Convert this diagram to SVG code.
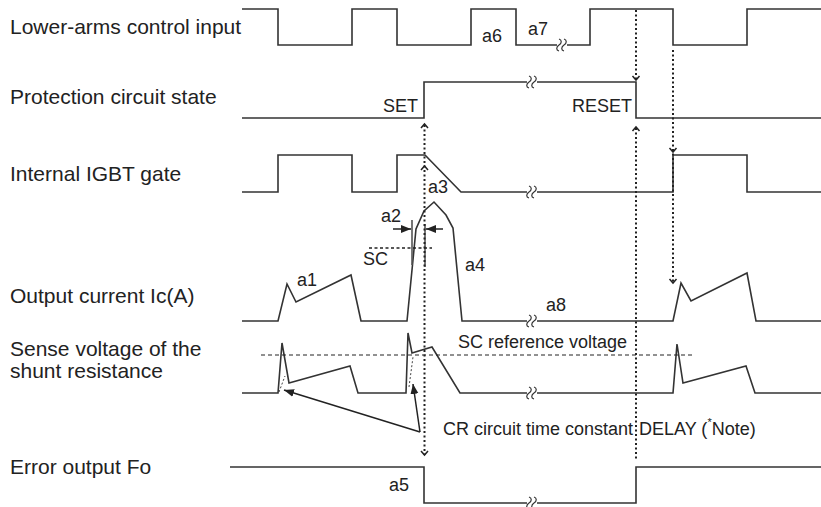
<svg xmlns="http://www.w3.org/2000/svg" width="821" height="507" viewBox="0 0 821 507">
<style>
  .lbl { font-family: "Liberation Sans", Arial, sans-serif; font-size: 21px; fill: #222; }
  .sm { font-family: "Liberation Sans", Arial, sans-serif; font-size: 18px; fill: #222; }
  .sig { fill: none; stroke: #333; stroke-width: 1.6; stroke-linejoin: miter; }
  .dot { fill: none; stroke: #222; stroke-width: 2; stroke-dasharray: 2 2.5; }
  .chev { fill: none; stroke: #222; stroke-width: 1.5; }
  .brk { fill: none; stroke: #333; stroke-width: 1.2; }
</style>
<defs>
  <marker id="ah" viewBox="0 0 10 10" refX="10" refY="5" markerWidth="10" markerHeight="10" markerUnits="userSpaceOnUse" orient="auto">
    <path d="M0,1 L10,5 L0,9 Z" fill="#222"/>
  </marker>
  <g id="brk">
    <rect x="-5" y="-3" width="10" height="6" fill="#fff"/>
    <path d="M-3,-6 c3,1 3,4 0,6 c-3,2 -3,5 0,6" class="brk"/>
    <path d="M2,-6 c3,1 3,4 0,6 c-3,2 -3,5 0,6" class="brk"/>
  </g>
  <path id="up" d="M-3.5,4 L0,0 L3.5,4" class="chev"/>
  <path id="dn" d="M-3.5,-4 L0,0 L3.5,-4" class="chev"/>
</defs>

<g id="labels">
  <text class="lbl" x="10" y="34">Lower-arms control input</text>
  <text class="lbl" x="10" y="104">Protection circuit state</text>
  <text class="lbl" x="10" y="181">Internal IGBT gate</text>
  <text class="lbl" x="10" y="303">Output current Ic(A)</text>
  <text class="lbl" x="10" y="356">Sense voltage of the</text>
  <text class="lbl" x="10" y="378">shunt resistance</text>
  <text class="lbl" x="10" y="474">Error output Fo</text>
</g>

<g id="lower-arms-input">
  <path class="sig" d="M242,9 H278 V45 H352 V9 H397 V45 H471 V9 H516 V45 H590 V9 H673 V45 H747 V9 H821"/>
  <use href="#brk" x="562" y="45"/>
  <text class="sm" x="482" y="42">a6</text>
  <text class="sm" x="528" y="35">a7</text>
</g>

<g id="protection-state">
  <path class="sig" d="M242,118 H424 V82 H636 V118 H821"/>
  <use href="#brk" x="532" y="82"/>
  <text class="sm" x="383" y="112">SET</text>
  <text class="sm" x="572" y="112">RESET</text>
</g>

<g id="igbt-gate">
  <path class="sig" d="M242,192 H278 V155 H352 V192 H397 V155 H425 L461,192 H673 V155 H747 V192 H821"/>
  <use href="#brk" x="532" y="192"/>
  <text class="sm" x="428" y="193">a3</text>
</g>

<g id="output-current">
  <path class="sig" d="M242,321 H278 L287,284 L296,302 L351,275 L361,321 H407 L416,229 L424,211 L434,202 L446,215 L453,228 L462,321 H673 L681,283 L691,301 L747,273 L756,321 H821"/>
  <use href="#brk" x="532" y="321"/>
  <text class="sm" x="297" y="286">a1</text>
  <text class="sm" x="381" y="222">a2</text>
  <text class="sm" x="363" y="265">SC</text>
  <text class="sm" x="465" y="271">a4</text>
  <text class="sm" x="546" y="311">a8</text>
  <line x1="412" y1="220" x2="412" y2="265" stroke="#555" stroke-width="1.6"/>
  <line x1="425" y1="224" x2="425" y2="267" stroke="#555" stroke-width="1.6"/>
  <line x1="369" y1="248" x2="432" y2="248" stroke="#222" stroke-width="1.5" stroke-dasharray="3 2.5"/>
</g>

<g id="sense-voltage">
  <path class="sig" d="M242,393 H278 L282,343 L289,383 L350,366 L358,393 H406 L408,333 L412,353 L432,347 L460,393 H673 L677,344 L683,383 L746,366 L755,393 H821"/>
  <use href="#brk" x="532" y="393"/>
  <line x1="261" y1="355" x2="695" y2="355" stroke="#222" stroke-width="1" stroke-dasharray="4 3"/>
  <line x1="279" y1="392" x2="285" y2="376" stroke="#444" stroke-width="1" stroke-dasharray="2 2"/>
  <line x1="409" y1="387" x2="413" y2="357" stroke="#444" stroke-width="1" stroke-dasharray="2 2"/>
  <text class="sm" x="458" y="348">SC reference voltage</text>
  <text class="sm" x="443" y="435">CR circuit time constant</text>
  <text class="sm" x="639" y="435">DELAY (<tspan font-size="11" dy="-9">*</tspan><tspan dy="9">Note)</tspan></text>
</g>

<g id="error-output">
  <path class="sig" d="M230,467 H424 V503 H636 V467 H821"/>
  <use href="#brk" x="532" y="503"/>
  <text class="sm" x="389" y="491">a5</text>
</g>

<g id="connectors">
  <line class="dot" x1="424.5" y1="125" x2="424.5" y2="455"/>
  <use href="#up" x="424.5" y="124"/>
  <use href="#up" x="424.5" y="166"/>
  <use href="#dn" x="424.5" y="455"/>
  <line class="dot" x1="636" y1="10" x2="636" y2="80"/>
  <use href="#dn" x="636" y="80"/>
  <line class="dot" x1="636" y1="128" x2="636" y2="460"/>
  <use href="#up" x="636" y="127"/>
  <line class="dot" x1="673" y1="50" x2="673" y2="283"/>
  <use href="#dn" x="673" y="152"/>
  <use href="#dn" x="673" y="283"/>
  <line x1="420" y1="432" x2="284" y2="390" stroke="#222" stroke-width="1.5" marker-end="url(#ah)"/>
  <line x1="420" y1="432" x2="413" y2="384" stroke="#222" stroke-width="1.5" marker-end="url(#ah)"/>
  <line x1="393" y1="229" x2="411" y2="229" stroke="#222" stroke-width="1.5" marker-end="url(#ah)"/>
  <line x1="443" y1="229" x2="426" y2="229" stroke="#222" stroke-width="1.5" marker-end="url(#ah)"/>
</g>
</svg>
